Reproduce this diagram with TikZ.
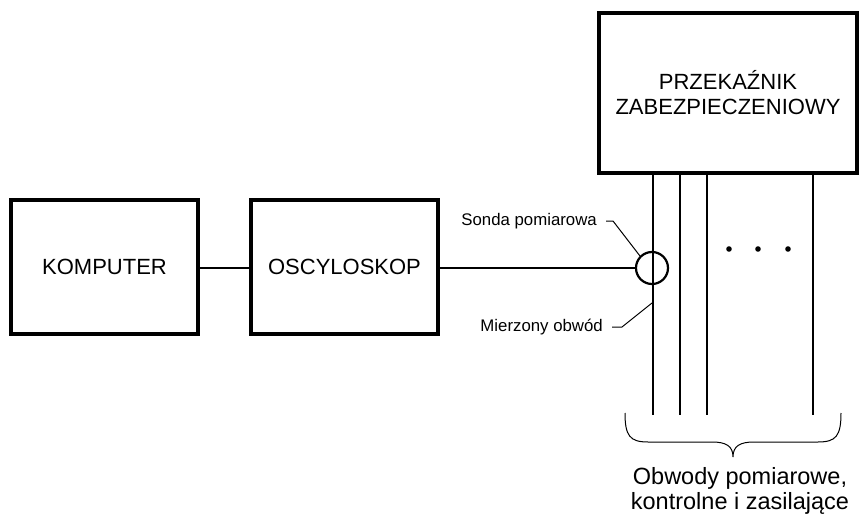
\documentclass[tikz,border=0pt]{standalone}
\usepackage{fontspec}
\setmainfont{Liberation Sans}
\begin{document}
\begin{tikzpicture}[x=1pt,y=-1pt,
  block/.style={draw,line width=3.4pt,inner sep=0pt,align=center,font=\fontsize{22}{26}\selectfont},
  wire/.style={line width=2.2pt},
  leader/.style={line width=1pt},
  note/.style={font=\fontsize{16.8}{20}\selectfont,inner sep=0pt}]
\useasboundingbox (0,0) rectangle (860,516);

% main blocks
\node[block,minimum width=187pt,minimum height=134pt] (pc) at (104.5,267) {KOMPUTER};
\node[block,minimum width=187pt,minimum height=134pt] (osc) at (344.5,267) {OSCYLOSKOP};
\node[block,minimum width=258pt,minimum height=160pt] (relay) at (728,93)
  {PRZEKAŹNIK\\[-1pt]ZABEZPIECZENIOWY};

% probe clamped on the measured circuit
\node[draw,circle,line width=2.2pt,minimum size=32pt,inner sep=0pt] (probe) at (652,268) {};

\draw[wire] (pc.east |- 0,268) -- (osc.west |- 0,268);
\draw[wire] (osc.east |- 0,268) -- (probe.west);

% circuits leaving the relay
\coordinate (c1) at (653,415);
\coordinate (c2) at (680,415);
\coordinate (c3) at (707,415);
\coordinate (c4) at (813,415);
\draw[wire] (relay.south -| c1) -- (c1);
\draw[wire] (relay.south -| c2) -- (c2);
\draw[wire] (relay.south -| c3) -- (c3);
\draw[wire] (relay.south -| c4) -- (c4);

% further circuits
\foreach \x in {729,758,788} \fill (\x,249) circle (2.8pt);

% brace over all circuits
\coordinate (bl) at (625,413);
\coordinate (br) at (841,413);
\coordinate (tip) at (733,457);
\draw[line width=1pt]
  (bl) .. controls (625,436) and (630,442) .. (648,442)
  -- (712,442) .. controls (726,442) and (733,446) .. (tip)
  .. controls (733,446) and (740,442) .. (754,442)
  -- (818,442) .. controls (836,442) and (841,436) .. (br);
\node[font=\fontsize{23.5}{25.5}\selectfont,align=center,inner sep=0pt] (group) at (740,491)
  {Obwody pomiarowe,\\kontrolne i zasilające};

% labels with leaders
\node[note,anchor=east] (sonda) at (597,221) {Sonda pomiarowa};
\coordinate (s1) at (606,221);
\coordinate (s2) at (613,221);
\draw[leader] (s1) -- (s2) -- (probe.135);

\node[note,anchor=east] (obw) at (603,327) {Mierzony obwód};
\coordinate (m1) at (612,327);
\coordinate (m2) at (622,327);
\coordinate (m3) at (652,303);
\draw[leader] (m1) -- (m2) -- (m3);
\end{tikzpicture}
\end{document}
